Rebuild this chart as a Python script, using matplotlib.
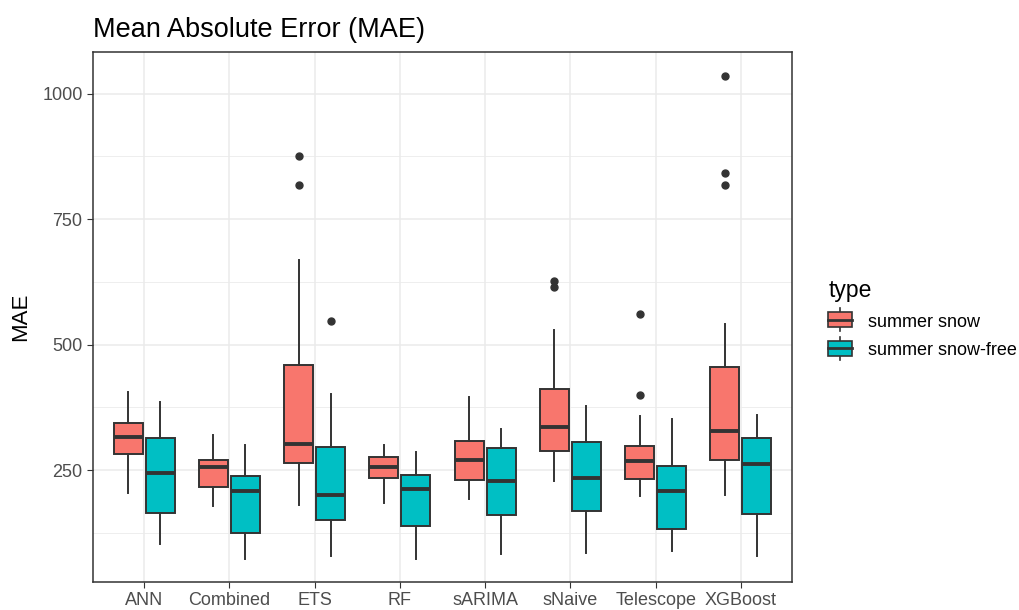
import matplotlib.pyplot as plt
from matplotlib.legend_handler import HandlerBase
from matplotlib.patches import Rectangle
from matplotlib.lines import Line2D

plt.rcParams['font.family'] = ['Liberation Sans', 'DejaVu Sans']

models = ["ANN", "Combined", "ETS", "RF", "sARIMA", "sNaive", "Telescope", "XGBoost"]
types = ["summer snow", "summer snow-free"]
colors = ["#F8766D", "#00BFC4"]

# values: lower whisker, q1, median, q3, upper whisker
snow_whislo = [205, 178, 181, 184, 193, 229, 199, 201]
snow_q1 = [282, 217, 264, 235, 231, 288, 232, 270]
snow_med = [316, 256, 302, 257, 270, 336, 268, 327]
snow_q3 = [343, 271, 460, 277, 308, 411, 297, 455]
snow_whishi = [405, 320, 669, 299, 395, 529, 358, 541]
snow_fliers = [[], [], [875, 817], [], [], [626, 615], [561, 400], [1035, 841, 817]]

free_whislo = [103, 72, 79, 72, 83, 84, 88, 78]
free_q1 = [165, 125, 151, 139, 160, 169, 132, 162]
free_med = [244, 208, 201, 213, 229, 235, 208, 262]
free_q3 = [314, 239, 295, 241, 293, 306, 259, 313]
free_whishi = [385, 300, 402, 286, 331, 378, 351, 359]
free_fliers = [[], [], [547], [], [], [], [], []]


def make_stats(lo, q1, med, q3, hi, fl):
    return [dict(whislo=a, q1=b, med=c, q3=d, whishi=e, fliers=f)
            for a, b, c, d, e, f in zip(lo, q1, med, q3, hi, fl)]


snow_stats = make_stats(snow_whislo, snow_q1, snow_med, snow_q3, snow_whishi, snow_fliers)
free_stats = make_stats(free_whislo, free_q1, free_med, free_q3, free_whishi, free_fliers)

edge = "#333333"
fig = plt.figure(figsize=(10.2, 6.1), dpi=100)
ax = fig.add_axes([0.0912, 0.0459, 0.6853, 0.8689])

pos = list(range(1, len(models) + 1))
w = 0.34
off = 0.188
for stats, shift, col in [(snow_stats, -off, colors[0]), (free_stats, off, colors[1])]:
    ax.bxp(stats, positions=[p + shift for p in pos], widths=w, patch_artist=True,
           showcaps=False, manage_ticks=False,
           boxprops=dict(facecolor=col, edgecolor=edge, linewidth=1.4),
           medianprops=dict(color=edge, linewidth=2.8, solid_capstyle="butt"),
           whiskerprops=dict(color=edge, linewidth=1.4),
           flierprops=dict(marker="o", markerfacecolor=edge, markeredgecolor=edge,
                           markersize=5, linestyle="none"))

ax.set_xlim(0.4, len(models) + 0.6)
ax.set_ylim(27, 1083)
ax.set_xticks(pos)
ax.set_xticklabels(models, fontsize=13, color="#4d4d4d")
ax.set_yticks([250, 500, 750, 1000])
ax.set_yticks([125, 375, 625, 875], minor=True)
ax.tick_params(axis="y", which="major", labelsize=13, labelcolor="#4d4d4d", color="#333333", length=4)
ax.tick_params(axis="y", which="minor", length=0)
ax.tick_params(axis="x", color="#333333", length=4, pad=3)
ax.grid(True, which="major", color="#EBEBEB", linewidth=1.1)
ax.grid(True, which="minor", axis="y", color="#EBEBEB", linewidth=0.6)
ax.set_axisbelow(True)
for s in ax.spines.values():
    s.set_color("#333333")
    s.set_linewidth(1.1)
ax.set_ylabel("MAE", fontsize=16, labelpad=8)
fig.text(0.0912, 0.93, "Mean Absolute Error (MAE)", fontsize=19.5, ha="left", va="bottom")


class BoxKey(HandlerBase):
    def create_artists(self, legend, orig, xd, yd, width, height, fontsize, trans):
        col = orig.get_facecolor()
        bw = width
        x0 = xd
        bh = height * 1.1
        y0 = yd + (height - bh) / 2
        cx = x0 + bw / 2
        rect = Rectangle((x0, y0), bw, bh, facecolor=col, edgecolor=edge, linewidth=1.2, transform=trans)
        med = Line2D([x0, x0 + bw], [y0 + bh / 2] * 2, color=edge, linewidth=2, transform=trans)
        wt = Line2D([cx, cx], [y0 + bh, y0 + bh + height * 0.3], color=edge, linewidth=1.2, transform=trans)
        wb = Line2D([cx, cx], [y0 - height * 0.3, y0], color=edge, linewidth=1.2, transform=trans)
        return [wt, wb, rect, med]


handles = [Rectangle((0, 0), 1, 1, facecolor=c) for c in colors]
leg = fig.legend(handles, types, handler_map={Rectangle: BoxKey()}, loc="upper left",
                 bbox_to_anchor=(0.812, 0.543), frameon=False, title="type",
                 fontsize=13, title_fontsize=16.5, handlelength=1.3, handleheight=0.75,
                 handletextpad=0.9, labelspacing=0.65, borderpad=0, borderaxespad=0)
leg._legend_box.align = "left"

fig.savefig("out.png", dpi=100)
